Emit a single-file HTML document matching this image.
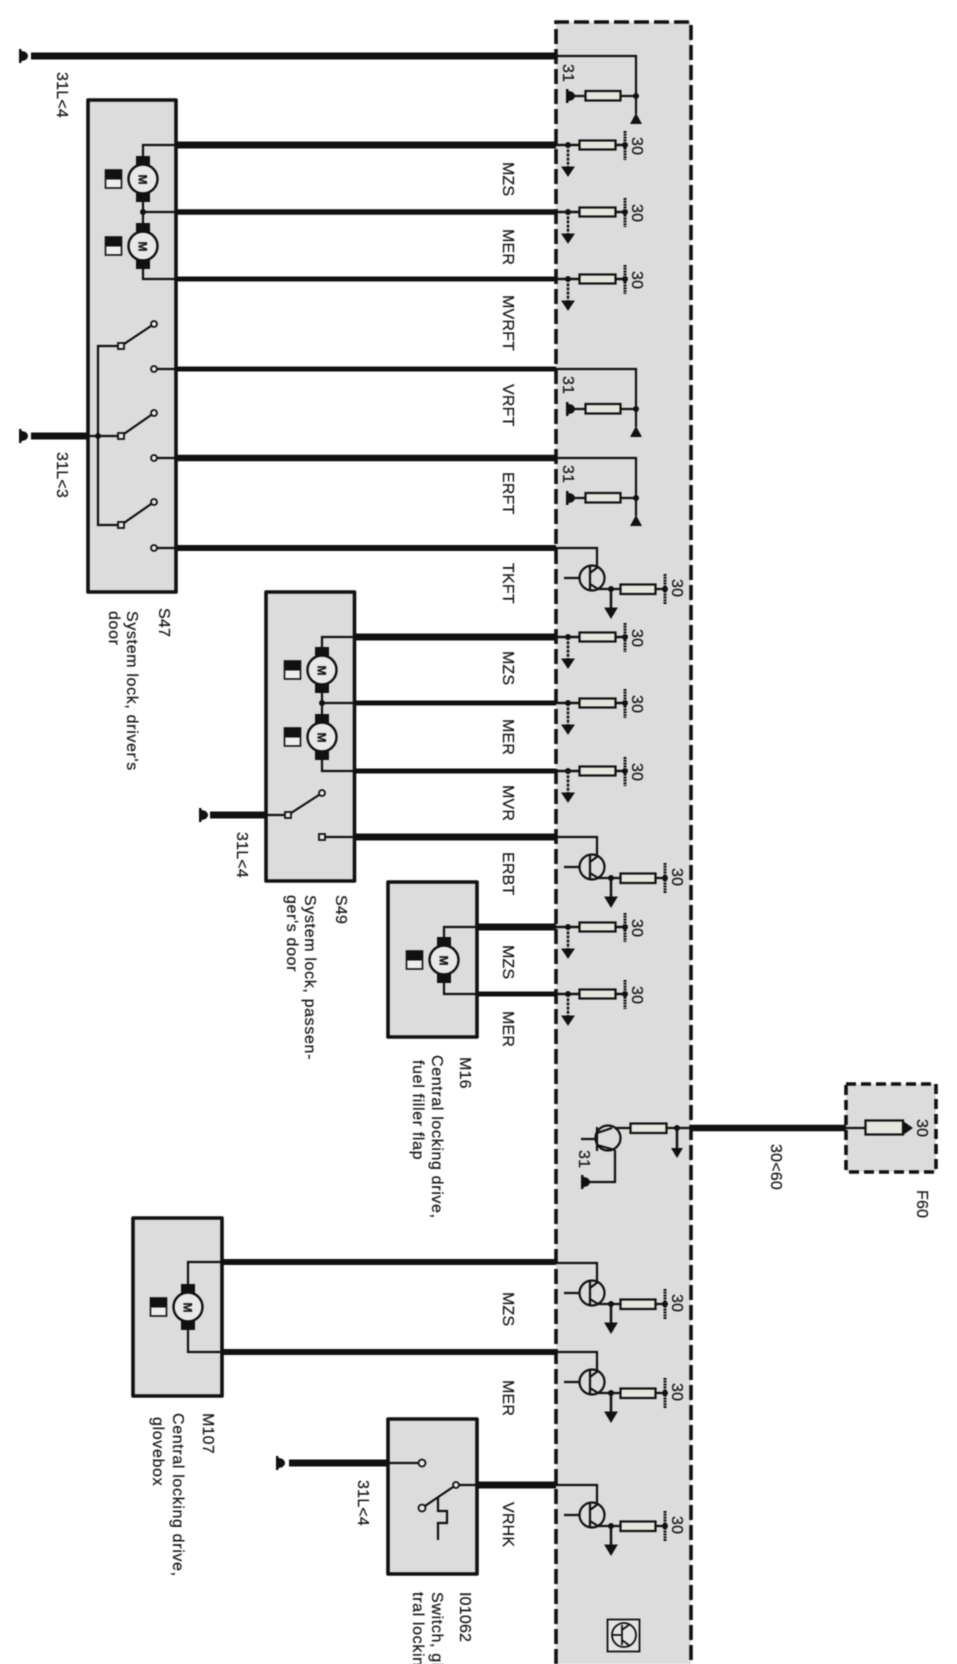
<!DOCTYPE html>
<html><head><meta charset="utf-8"><style>
html,body{margin:0;padding:0;background:#fff;width:957px;height:1664px;overflow:hidden}
svg{display:block;filter:blur(.55px)}
text{font-family:"Liberation Sans",Arial,sans-serif;font-size:16px;fill:#141414;stroke:#141414;stroke-width:.2;letter-spacing:.2px}
.d{letter-spacing:.65px}
</style></head><body>
<svg xmlns="http://www.w3.org/2000/svg" width="957" height="1664" viewBox="0 0 957 1664">
<defs>
<clipPath id="page"><rect width="957" height="1664"/></clipPath>
<g id="gnd"><rect x="0" y="-7" width="2.5" height="14" fill="#111"/><path d="M2 -5 C7 -5 9 -2 9 0 C9 2 7 5 2 5Z" fill="#111"/></g>
<g id="r"><path d="M556 0H579M616 0H625" stroke="#111" stroke-width="2.5" fill="none"/><path d="M568 0V23" stroke="#111" stroke-width="2.5" stroke-dasharray="3 1.2"/><circle cx="568" cy="0" r="3" fill="#111"/><path d="M562 22H574L568 31Z" fill="#111" stroke="#111"/><rect x="579.5" y="-4.500" width="36" height="9" fill="#e6e6de" stroke="#111" stroke-width="2.2"/><circle cx="625" cy="0" r="3" fill="#111"/><path d="M625 -14V15" stroke="#111" stroke-width="3" stroke-dasharray="2 .8"/></g>
<g id="c31"><path d="M556 0H636V58M571 40H585M620 40H636" stroke="#111" stroke-width="2.2" fill="none"/><circle cx="636" cy="40" r="3" fill="#111"/><path d="M636 57L642 68H630Z" fill="#111"/><rect x="585.5" y="35" width="35" height="9.5" fill="#e6e6de" stroke="#111" stroke-width="2.2"/><use href="#gnd" x="566" y="40"/></g>
<g id="t"><path d="M556 0H597V20M564 30H580M597 41H620M655 41H665" stroke="#111" stroke-width="2.2" fill="none"/><circle cx="592" cy="30" r="12.5" fill="#dcdcdc" stroke="#111" stroke-width="2.2"/><path d="M590 18V42M590 25L598 19M590 36L598 41" stroke="#111" stroke-width="2.2" fill="none"/><circle cx="611" cy="41" r="3" fill="#111"/><path d="M611 41V62" stroke="#111" stroke-width="2.5"/><path d="M605 60H617L611 70Z" fill="#111" stroke="#111"/><rect x="620.5" y="36.5" width="35" height="9.5" fill="#e6e6de" stroke="#111" stroke-width="2.2"/><circle cx="665" cy="41" r="3" fill="#111"/><path d="M665 26V56" stroke="#111" stroke-width="3" stroke-dasharray="2 .8"/></g>
<g id="m"><rect x="-7" y="-23" width="14" height="9" fill="#111"/><rect x="-7" y="14" width="14" height="9" fill="#111"/><circle r="14.5" fill="#e8e8e8" stroke="#111" stroke-width="2.4"/><text transform="translate(-4.5,-4.5) rotate(90)" style="font-size:12px;font-weight:bold">M</text><rect x="-37.5" y="-9" width="16" height="18" fill="#eee" stroke="#111" stroke-width="1.6"/><rect x="-38" y="-9.5" width="17" height="10" fill="#111"/></g>
<g id="sw"><rect x="-3" y="-3" width="6" height="6" fill="#e8e8e8" stroke="#111" stroke-width="1.8"/></g>
</defs>
<rect width="957" height="1664" fill="#fff"/>
<g clip-path="url(#page)">
<!-- panel -->
<rect x="556" y="22" width="135" height="1642" fill="#dcdcdc"/>
<path d="M556 1664V22H691V1664" fill="none" stroke="#111" stroke-width="3.6" stroke-dasharray="15 5"/>
<!-- boxes -->
<g fill="#dcdcdc" stroke="#111" stroke-width="3.6" stroke-linejoin="round">
<rect x="88" y="100" width="88" height="492"/>
<rect x="266" y="592" width="88.500" height="289"/>
<rect x="388" y="882" width="89" height="155"/>
<rect x="133" y="1218" width="89" height="178"/>
<rect x="388" y="1419" width="89" height="155"/>
</g>
<rect x="846" y="1084" width="90" height="88" fill="#dcdcdc" stroke="#111" stroke-width="3.6" stroke-dasharray="10 5"/>

<!-- thick wires -->
<g stroke="#111" fill="none">
<path d="M31 56H556" stroke-width="7"/>
<path d="M177 145H556" stroke-width="7"/>
<path d="M177 212H556" stroke-width="5.500"/>
<path d="M177 279H556" stroke-width="5"/>
<path d="M177 369H556" stroke-width="5"/>
<path d="M177 458H556" stroke-width="6.500"/>
<path d="M177 548H556" stroke-width="6"/>
<path d="M31 436H87" stroke-width="7"/>
<path d="M355 637H556" stroke-width="7"/>
<path d="M355 703H556" stroke-width="5"/>
<path d="M355 771H556" stroke-width="5"/>
<path d="M355 837H556" stroke-width="7"/>
<path d="M210 815H266" stroke-width="7"/>
<path d="M478 927H556" stroke-width="7"/>
<path d="M478 994H556" stroke-width="5"/>
<path d="M223 1262H556" stroke-width="6"/>
<path d="M223 1352H556" stroke-width="6"/>
<path d="M289 1463H388" stroke-width="7"/>
<path d="M478 1485H556" stroke-width="7"/>
<path d="M690 1128H846" stroke-width="6.500"/>
</g>
<use href="#gnd" x="19" y="56"/><use href="#gnd" x="19" y="436"/><use href="#gnd" x="199" y="815"/><use href="#gnd" x="276" y="1463"/>

<!-- panel circuits -->
<use href="#c31" y="56"/><use href="#c31" y="369"/><use href="#c31" y="458"/>
<use href="#r" y="145"/><use href="#r" y="212"/><use href="#r" y="279"/>
<use href="#t" y="548"/>
<use href="#r" y="637"/><use href="#r" y="703"/><use href="#r" y="771"/>
<use href="#t" y="837"/>
<use href="#r" y="927"/><use href="#r" y="994"/>
<use href="#t" y="1263"/><use href="#t" y="1352"/><use href="#t" y="1485"/>

<!-- central transistor -->
<g stroke="#111" stroke-width="2.2" fill="none">
<path d="M612 1128H630M667 1128H690"/>
<circle cx="608" cy="1138" r="12.500" fill="#dcdcdc"/>
<path d="M581 1139H597M597 1127V1151M597 1133L612 1128M597 1145L615 1150M615 1150V1182H584"/>
<rect x="630.500" y="1123.500" width="36" height="9.500" fill="#e6e6de"/>
<path d="M677 1128V1150" stroke-width="2.500"/>
</g>
<circle cx="677" cy="1128" r="3" fill="#111"/>
<path d="M671 1148H683L677 1158Z" fill="#111"/>
<use href="#gnd" x="581" y="1182"/>

<!-- F60 fuse -->
<path d="M846 1128H865" stroke="#111" stroke-width="2.200"/>
<path d="M865.500 1120.500H903V1134.500H865.500Z" fill="#e6e6de" stroke="#111" stroke-width="2.200"/>
<path d="M903 1121L913 1128L903 1135Z" fill="#111"/>

<!-- S47 -->
<use href="#m" x="143" y="179"/><use href="#m" x="143" y="246"/>
<g stroke="#111" stroke-width="2.200" fill="none">
<path d="M177 145H143V157M143 201V224M143 212H177M143 268V279H177"/>
<path d="M121 346H98V525H121M87 436H121"/>
<path d="M121 346L154 324M121 436L154 413M121 525L154 502"/>
<path d="M154 369H177M154 458H177M154 548H177"/>
</g>
<circle cx="143" cy="212" r="3" fill="#111"/><circle cx="98" cy="436" r="3" fill="#111"/>
<use href="#sw" x="121" y="346"/><use href="#sw" x="121" y="436"/><use href="#sw" x="121" y="525"/>
<g fill="#e8e8e8" stroke="#111" stroke-width="1.800"><circle cx="154" cy="324" r="3"/><circle cx="154" cy="413" r="3"/><circle cx="154" cy="502" r="3"/><circle cx="154" cy="369" r="3"/><circle cx="154" cy="458" r="3"/><circle cx="154" cy="548" r="3"/></g>

<!-- S49 -->
<use href="#m" x="322" y="670"/><use href="#m" x="322" y="737"/>
<g stroke="#111" stroke-width="2.200" fill="none">
<path d="M355 637H322V648M322 692V715M322 703H355M322 759V771H355"/>
<path d="M266 815H288M288 815L322 793M322 837H355"/>
</g>
<circle cx="322" cy="703" r="3" fill="#111"/>
<use href="#sw" x="288" y="815"/><use href="#sw" x="322" y="837"/>
<circle cx="322" cy="793" r="3" fill="#e8e8e8" stroke="#111" stroke-width="1.800"/>

<!-- M16 -->
<use href="#m" x="444" y="960"/>
<path d="M478 927H444V938M444 982V994H478" stroke="#111" stroke-width="2.200" fill="none"/>

<!-- M107 -->
<use href="#m" x="188" y="1307"/>
<path d="M223 1262H188V1285M188 1329V1352H223" stroke="#111" stroke-width="2.200" fill="none"/>

<!-- I01062 -->
<g stroke="#111" stroke-width="2.200" fill="none">
<path d="M388 1463H420M456 1485H478M422 1508L456 1485M438 1497V1511H447V1523H438V1540"/>
</g>
<g fill="#e8e8e8" stroke="#111" stroke-width="1.800"><circle cx="422" cy="1463" r="3.500"/><circle cx="422" cy="1508" r="3.500"/><circle cx="456" cy="1485" r="3"/></g>

<!-- bottom symbol -->
<rect x="607.500" y="1619.500" width="32" height="32" fill="#e4e4e4" stroke="#111" stroke-width="1.800"/>
<g stroke="#111" stroke-width="1.800" fill="none"><circle cx="624" cy="1635" r="12"/><path d="M612 1635H622M622 1625V1645M622 1630L630 1624M622 1640L630 1646"/></g>

<!-- labels -->
<text transform="translate(57,72) rotate(90)">31L&lt;4</text>
<text transform="translate(57,452) rotate(90)">31L&lt;3</text>
<text transform="translate(237,832) rotate(90)">31L&lt;4</text>
<text transform="translate(358,1480) rotate(90)">31L&lt;4</text>

<text transform="translate(503,162) rotate(90)">MZS</text>
<text transform="translate(503,229) rotate(90)">MER</text>
<text transform="translate(503,295) rotate(90)">MVRFT</text>
<text transform="translate(503,384) rotate(90)">VRFT</text>
<text transform="translate(503,472) rotate(90)">ERFT</text>
<text transform="translate(503,563) rotate(90)">TKFT</text>
<text transform="translate(503,651) rotate(90)">MZS</text>
<text transform="translate(503,719) rotate(90)">MER</text>
<text transform="translate(503,785) rotate(90)">MVR</text>
<text transform="translate(503,852) rotate(90)">ERBT</text>
<text transform="translate(503,945) rotate(90)">MZS</text>
<text transform="translate(503,1011) rotate(90)">MER</text>
<text transform="translate(503,1292) rotate(90)">MZS</text>
<text transform="translate(503,1380) rotate(90)">MER</text>
<text transform="translate(503,1502) rotate(90)">VRHK</text>

<text transform="translate(563,64) rotate(90)">31</text>
<text transform="translate(563,376) rotate(90)">31</text>
<text transform="translate(563,465) rotate(90)">31</text>
<text transform="translate(579,1150) rotate(90)">31</text>

<g>
<text transform="translate(632,137) rotate(90)">30</text>
<text transform="translate(632,204) rotate(90)">30</text>
<text transform="translate(632,271) rotate(90)">30</text>
<text transform="translate(632,629) rotate(90)">30</text>
<text transform="translate(632,695) rotate(90)">30</text>
<text transform="translate(632,763) rotate(90)">30</text>
<text transform="translate(632,919) rotate(90)">30</text>
<text transform="translate(632,986) rotate(90)">30</text>
<text transform="translate(672,579) rotate(90)">30</text>
<text transform="translate(672,868) rotate(90)">30</text>
<text transform="translate(672,1294) rotate(90)">30</text>
<text transform="translate(672,1383) rotate(90)">30</text>
<text transform="translate(672,1516) rotate(90)">30</text>
<text transform="translate(917,1119) rotate(90)">30</text>
</g>
<text transform="translate(771,1144) rotate(90)">30&lt;60</text>
<text transform="translate(917,1190) rotate(90)">F60</text>

<text transform="translate(159,608) rotate(90)">S47</text>
<text class="d" transform="translate(127,611) rotate(90)">System  lock, driver's</text>
<text class="d" transform="translate(109,611) rotate(90)">door</text>
<text transform="translate(336,895) rotate(90)">S49</text>
<text class="d" transform="translate(305,895) rotate(90)">System lock, passen-</text>
<text class="d" transform="translate(287,895) rotate(90)">ger's door</text>
<text transform="translate(460,1057) rotate(90)">M16</text>
<text class="d" transform="translate(432,1055) rotate(90)">Central locking drive,</text>
<text class="d" transform="translate(413,1060) rotate(90)">fuel filler flap</text>
<text transform="translate(203,1413) rotate(90)">M107</text>
<text class="d" transform="translate(173,1413) rotate(90)">Central locking drive,</text>
<text class="d" transform="translate(153,1417) rotate(90)">glovebox</text>
<text transform="translate(460,1592) rotate(90)">I01062</text>
<text class="d" transform="translate(432,1592) rotate(90)">Switch, gl</text>
<text class="d" transform="translate(413,1592) rotate(90)">tral lockin</text>
</g>
</svg>
</body></html>
